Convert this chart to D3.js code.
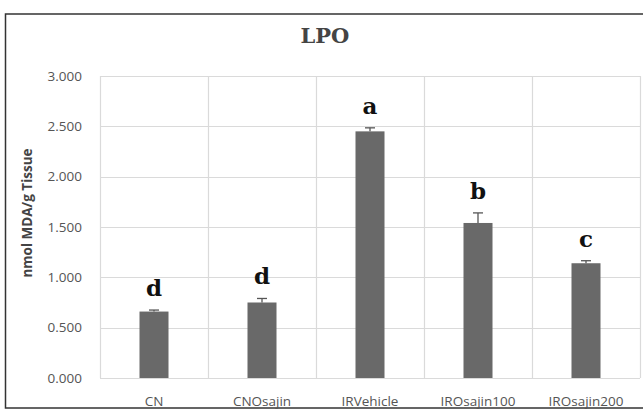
<!DOCTYPE html>
<html>
<head>
<meta charset="utf-8">
<script src="https://cdn.jsdelivr.net/npm/d3@7"></script>
<style>
  body { margin: 0; background: #fff; }
  svg { display: block; }
</style>
</head>
<body>
<div id="chart"></div>
<script>
// data
const groups = ['CN', 'CNOsajin', 'IRVehicle', 'IROsajin100', 'IROsajin200'];
const means = [0.66, 0.75, 2.45, 1.54, 1.14];
const errors = [0.015, 0.04, 0.035, 0.10, 0.025];
const letters = ['d', 'd', 'a', 'b', 'c'];
const yTicks = [0, 0.5, 1, 1.5, 2, 2.5, 3];

const W = 643, H = 410;
const margin = { top: 76, right: 3, bottom: 32, left: 100 };

const svg = d3.select('#chart').append('svg')
    .attr('width', W)
    .attr('height', H);

// outer frame
svg.append('rect')
    .attr('x', 5.5).attr('y', 14)
    .attr('width', 700).attr('height', 394)
    .attr('fill', 'none')
    .attr('stroke', '#333')
    .attr('stroke-width', 1.5);

const x = d3.scaleBand()
    .domain(groups)
    .range([margin.left, W - margin.right])
    .paddingInner(0).paddingOuter(0);

const y = d3.scaleLinear()
    .domain([0, 3])
    .range([H - margin.bottom, margin.top]);

// horizontal grid
svg.append('g')
    .selectAll('line')
    .data(yTicks)
    .join('line')
    .attr('x1', margin.left).attr('x2', W - margin.right)
    .attr('y1', d => Math.round(y(d)) + 0.5)
    .attr('y2', d => Math.round(y(d)) + 0.5)
    .attr('stroke', '#dadada')
    .attr('stroke-width', 1.2);

// vertical grid (band edges)
const edges = groups.map(g => x(g)).concat([x.range()[1]]);
svg.append('g')
    .selectAll('line')
    .data(edges)
    .join('line')
    .attr('x1', d => Math.round(d) + 0.5).attr('x2', d => Math.round(d) + 0.5)
    .attr('y1', y(3)).attr('y2', y(0))
    .attr('stroke', '#dadada')
    .attr('stroke-width', 1.2);

// y axis labels
svg.append('g')
    .selectAll('text')
    .data(yTicks)
    .join('text')
    .attr('x', 82)
    .attr('y', d => y(d))
    .attr('dy', '0.35em')
    .attr('text-anchor', 'end')
    .attr('font-family', 'Open Sans, sans-serif')
    .attr('font-size', 13.5)
    .attr('fill', '#555')
    .text(d3.format('.3f'));

// x labels
svg.append('g')
    .selectAll('text')
    .data(groups)
    .join('text')
    .attr('x', d => x(d) + x.bandwidth() / 2)
    .attr('y', 406)
    .attr('text-anchor', 'middle')
    .attr('font-family', 'Open Sans, sans-serif')
    .attr('font-size', 13.5)
    .attr('fill', '#555')
    .text(d => d);

// bars
const barW = 29;
const bars = groups.map((g, i) => ({ g, v: means[i], e: errors[i], l: letters[i] }));

svg.append('g')
    .selectAll('rect')
    .data(bars)
    .join('rect')
    .attr('x', d => x(d.g) + x.bandwidth() / 2 - barW / 2)
    .attr('y', d => y(d.v))
    .attr('width', barW)
    .attr('height', d => y(0) - y(d.v))
    .attr('fill', '#696969');

// error bars (upper only)
const err = svg.append('g')
    .attr('stroke', '#555')
    .attr('stroke-width', 1.3);

err.selectAll('line.stem')
    .data(bars)
    .join('line')
    .attr('class', 'stem')
    .attr('x1', d => x(d.g) + x.bandwidth() / 2)
    .attr('x2', d => x(d.g) + x.bandwidth() / 2)
    .attr('y1', d => y(d.v))
    .attr('y2', d => y(d.v + d.e));

err.selectAll('line.cap')
    .data(bars)
    .join('line')
    .attr('class', 'cap')
    .attr('x1', d => x(d.g) + x.bandwidth() / 2 - 5)
    .attr('x2', d => x(d.g) + x.bandwidth() / 2 + 5)
    .attr('y1', d => y(d.v + d.e))
    .attr('y2', d => y(d.v + d.e));

// significance letters
svg.append('g')
    .selectAll('text')
    .data(bars)
    .join('text')
    .attr('x', d => x(d.g) + x.bandwidth() / 2)
    .attr('y', d => y(d.v + d.e) - 14)
    .attr('text-anchor', 'middle')
    .attr('font-family', 'DejaVu Serif, serif')
    .attr('font-weight', 'bold')
    .attr('font-size', 23)
    .attr('fill', '#111')
    .text(d => d.l);

// title
svg.append('text')
    .attr('x', 325)
    .attr('y', 43)
    .attr('text-anchor', 'middle')
    .attr('font-family', 'DejaVu Serif, serif')
    .attr('font-weight', 'bold')
    .attr('font-size', 21)
    .attr('fill', '#444')
    .text('LPO');

// y axis title
svg.append('text')
    .attr('transform', 'translate(32,213) rotate(-90)')
    .attr('text-anchor', 'middle')
    .attr('font-family', 'Open Sans, sans-serif')
    .attr('font-weight', 'bold')
    .attr('font-size', 13.5)
    .attr('fill', '#444')
    .text('nmol MDA/g Tissue');
</script>
</body>
</html>
